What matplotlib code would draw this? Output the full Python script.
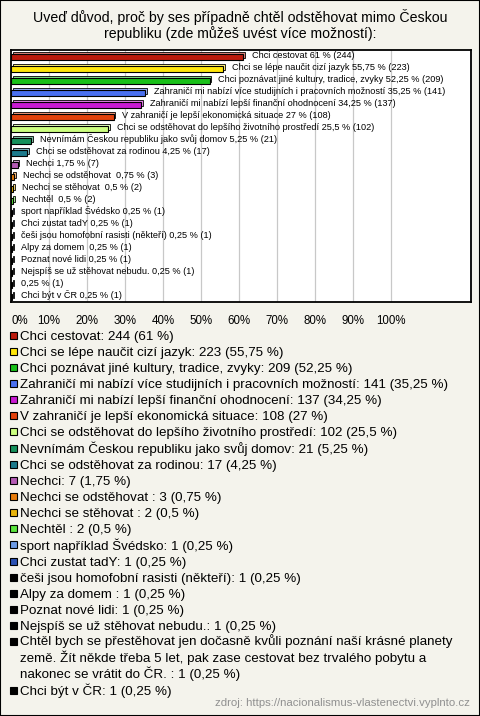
import matplotlib.pyplot as plt
import matplotlib.patheffects as pe
from matplotlib.patches import Rectangle

plt.rcParams['font.family'] = ['Liberation Sans', 'DejaVu Sans']

title = "Uveď důvod, proč by ses případně chtěl odstěhovat mimo Českou\nrepubliku (zde můžeš uvést více možností):"

names = [
    "Chci cestovat",
    "Chci se lépe naučit cizí jazyk",
    "Chci poznávat jiné kultury, tradice, zvyky",
    "Zahraničí mi nabízí více studijních i pracovních možností",
    "Zahraničí mi nabízí lepší finanční ohodnocení",
    "V zahraničí je lepší ekonomická situace",
    "Chci se odstěhovat do lepšího životního prostředí",
    "Nevnímám Českou republiku jako svůj domov",
    "Chci se odstěhovat za rodinou",
    "Nechci",
    "Nechci se odstěhovat ",
    "Nechci se stěhovat ",
    "Nechtěl ",
    "sport například Švédsko",
    "Chci zustat tadY",
    "češi jsou homofobní rasisti (někteří)",
    "Alpy za domem ",
    "Poznat nové lidi",
    "Nejspíš se už stěhovat nebudu.",
    "Chtěl bych se přestěhovat jen dočasně kvůli poznání naší krásné planety\n"
    "země. Žít někde třeba 5 let, pak zase cestovat bez trvalého pobytu a\n"
    "nakonec se vrátit do ČR. ",
    "Chci být v ČR",
]
# the long answer has no text next to its bar
bar_names = names[:19] + [""] + names[20:]
counts = [244, 223, 209, 141, 137, 108, 102, 21, 17, 7, 3, 2, 2, 1, 1, 1, 1, 1, 1, 1, 1]
percents = [61, 55.75, 52.25, 35.25, 34.25, 27, 25.5, 5.25, 4.25, 1.75, 0.75, 0.5, 0.5,
            0.25, 0.25, 0.25, 0.25, 0.25, 0.25, 0.25, 0.25]
colors = ["#bb1a0c", "#ffe60a", "#19c019", "#4a70f0", "#c81ad2", "#e3420c", "#ccff80",
          "#15905a", "#1c7a8c", "#b45ab4", "#e87c0c", "#e8b40c", "#5ae43c", "#6c9ae4",
          "#2c52b4", "#000000", "#000000", "#000000", "#000000", "#000000", "#000000"]
xticks = [0, 10, 20, 30, 40, 50, 60, 70, 80, 90, 100]

bg = "#f4f3ec"
W, H = 480, 716


def fx(px):
    return px / W


def fy(py):
    return 1 - py / H


def fmt(p):
    return f"{p:g}".replace(".", ",")


def lighter(c, k=0.45):
    c = c.lstrip("#")
    rgb = [int(c[i:i + 2], 16) / 255 for i in (0, 2, 4)]
    return tuple(v + (1 - v) * k for v in rgb)


fig = plt.figure(figsize=(4.8, 7.16), dpi=100, facecolor=bg)
fig.patches.append(Rectangle((0, 0), 1, 1, transform=fig.transFigure, fill=False,
                             edgecolor="black", linewidth=1.5))

fig.text(0.5, fy(25), title, ha="center", va="center", fontsize=10.2, linespacing=1.1)

ax = fig.add_axes([fx(11), fy(302), fx(471) - fx(11), fy(50) - fy(302)])
ax.set_facecolor("white")
n = len(counts)
ys = list(range(n))
ax.set_xlim(0, 121)
ax.set_ylim(n - 0.5, -0.5)
for x in xticks[1:]:
    ax.axvline(x, color="#c8c8c8", linewidth=0.9, zorder=0)

for i in ys:
    p = percents[i]
    ax.barh(i + 0.08, p, height=0.45, color=colors[i], edgecolor="black", linewidth=0.8,
            zorder=2,
            path_effects=[pe.PathPatchEffect(offset=(1.3, 1.3), facecolor=lighter(colors[i]),
                                             edgecolor="black", linewidth=0.6),
                          pe.Normal()])
    label = f"{bar_names[i]} {fmt(p)} % ({counts[i]})".strip()
    ax.text(p + 2.3, i - 0.05, label, fontsize=6.6, va="center", ha="left", zorder=3)

ax.set_xticks(xticks)
ax.set_xticklabels([f"{t}%" for t in xticks], fontsize=8.3)
ax.get_xticklabels()[0].set_ha("left")
ax.tick_params(axis="x", length=0, pad=9)
ax.set_yticks([])
for s in ax.spines.values():
    s.set_linewidth(1.3)

# legend below the chart
y = 335
for i in ys:
    lines = names[i].count("\n") + 1
    fig.patches.append(Rectangle((fx(9.5), fy(y + 3.5)), fx(7), fy(0) - fy(7),
                                 transform=fig.transFigure, facecolor=colors[i],
                                 edgecolor="black", linewidth=0.8))
    txt = f"{names[i]}: {counts[i]} ({fmt(percents[i])} %)"
    if lines == 1:
        fig.text(fx(20), fy(y + 4.6), txt, fontsize=9.6, va="baseline", ha="left")
    else:
        fig.text(fx(20), fy(y - 7.5), txt, fontsize=9.6, va="top", ha="left",
                 linespacing=1.17)
    y += 16.15 * lines

fig.text(fx(470), fy(703), "zdroj: https://nacionalismus-vlastenectvi.vyplnto.cz",
         fontsize=8.2, color="#909090", ha="right", va="center")

fig.savefig("out.png", dpi=100, facecolor=bg)
